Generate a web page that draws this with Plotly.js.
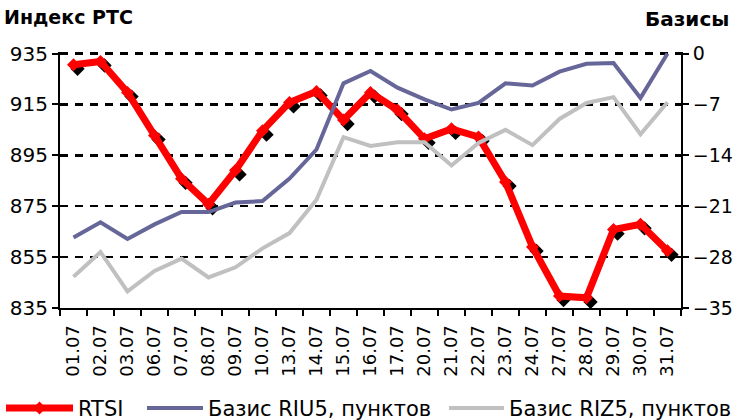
<!DOCTYPE html>
<html>
<head>
<meta charset="utf-8">
<script src="https://cdn.plot.ly/plotly-3.0.1.min.js"></script>
<style>html,body{margin:0;padding:0;background:#fff;}#chart{width:736px;height:420px;}</style>
</head>
<body>
<div id="chart"></div>
<script>
const dates = ["01.07","02.07","03.07","06.07","07.07","08.07","09.07","10.07","13.07","14.07","15.07","16.07","17.07","20.07","21.07","22.07","23.07","24.07","27.07","28.07","29.07","30.07","31.07"];
const rtsi = [930.6,931.9,919.7,902.8,885.8,875.8,889.1,904.7,915.8,920.1,908.9,919.7,912.8,901.5,905.4,902.2,884.5,859.0,839.7,839.0,865.8,867.9,857.5];
const riu5 = [-25.3,-23.2,-25.5,-23.5,-21.8,-21.8,-20.5,-20.3,-17.2,-13.2,-4.1,-2.4,-4.7,-6.3,-7.7,-6.8,-4.1,-4.4,-2.5,-1.4,-1.3,-6.1,0.0];
const riz5 = [-30.7,-27.3,-32.7,-29.9,-28.2,-30.8,-29.4,-26.8,-24.7,-20.1,-11.5,-12.7,-12.2,-12.2,-15.4,-12.3,-10.5,-12.6,-9.0,-6.8,-6.0,-11.1,-6.7];
const leftTicks = [835,855,875,895,915,935];
const rightTicks = [-35,-28,-21,-14,-7,0];

const FONT = "DejaVu Sans, Verdana, sans-serif";

const traces = [
  // shadow of RTSI markers (drawn first, on shifted hidden main axes)
  {x: dates, y: rtsi, xaxis: "x", yaxis: "y", type: "scatter", mode: "markers",
   marker: {symbol: "diamond", size: 11, color: "#000000"}, showlegend: false, hoverinfo: "skip"},
  {x: dates, y: rtsi, xaxis: "x2", yaxis: "y2", type: "scatter", mode: "lines+markers", name: "RTSI",
   line: {color: "#FF0000", width: 7}, marker: {symbol: "diamond", size: 10, color: "#FF0000"}, legend: "legend"},
  {x: dates, y: riz5, xaxis: "x2", yaxis: "y3", type: "scatter", mode: "lines", name: "Базис RIZ5, пунктов",
   line: {color: "#C0C0C0", width: 4}, legend: "legend3"},
  {x: dates, y: riu5, xaxis: "x2", yaxis: "y3", type: "scatter", mode: "lines", name: "Базис RIU5, пунктов",
   line: {color: "#666699", width: 4}, legend: "legend2"}
];

const yTop = 935.6, rTop = 0.21;
const dx = 0.15, dy = 1.6;
const axLine = {showline: true, linecolor: "#000", linewidth: 2, ticks: "outside", ticklen: 6, tickwidth: 2, tickcolor: "#000", zeroline: false};
const legBase = {orientation: "h", xanchor: "left", y: -0.392, yanchor: "middle",
                 font: {size: 21, family: FONT}, bgcolor: "rgba(0,0,0,0)", borderwidth: 0};
const layout = {
  width: 736, height: 420,
  margin: {l: 60, r: 55, t: 52, b: 112, autoexpand: false},
  paper_bgcolor: "#ffffff", plot_bgcolor: "#ffffff",
  font: {family: FONT, color: "#000000"},
  showlegend: true,
  legend: Object.assign({}, legBase, {x: -0.095, itemwidth: 67}),
  legend2: Object.assign({}, legBase, {x: 0.132, itemwidth: 56}),
  legend3: Object.assign({}, legBase, {x: 0.6184, itemwidth: 55}),
  xaxis: {type: "category", range: [-0.5 - dx, 22.5 - dx], visible: false, showgrid: false},
  yaxis: {range: [835 + dy, yTop + dy], visible: false, showgrid: false},
  xaxis2: Object.assign({overlaying: "x", type: "category", range: [-0.5, 22.5], showgrid: false,
          tickson: "boundaries", tickangle: -90, ticklabelstandoff: 8, tickfont: {size: 18, family: FONT}}, axLine),
  yaxis2: Object.assign({overlaying: "y", side: "left", range: [835, yTop], tickvals: leftTicks,
          showgrid: true, gridcolor: "#000", gridwidth: 2.5, griddash: "8px,7px",
          tickfont: {size: 20, family: FONT}}, axLine),
  yaxis3: Object.assign({overlaying: "y", side: "right", range: [-35, rTop], tickvals: rightTicks,
          showgrid: false, tickfont: {size: 19, family: FONT}}, axLine),
  annotations: [
    {text: "<b>Индекс РТС</b>", xref: "paper", yref: "paper", x: -0.094, y: 1.135, xanchor: "left", yanchor: "middle",
     showarrow: false, font: {size: 19, family: FONT}},
    {text: "<b>Базисы</b>", xref: "paper", yref: "paper", x: 1.081, y: 1.13, xanchor: "right", yanchor: "middle",
     showarrow: false, font: {size: 20, family: FONT}}
  ],
  hovermode: false
};

Plotly.newPlot("chart", traces, layout, {displayModeBar: false, staticPlot: true});
</script>
</body>
</html>
